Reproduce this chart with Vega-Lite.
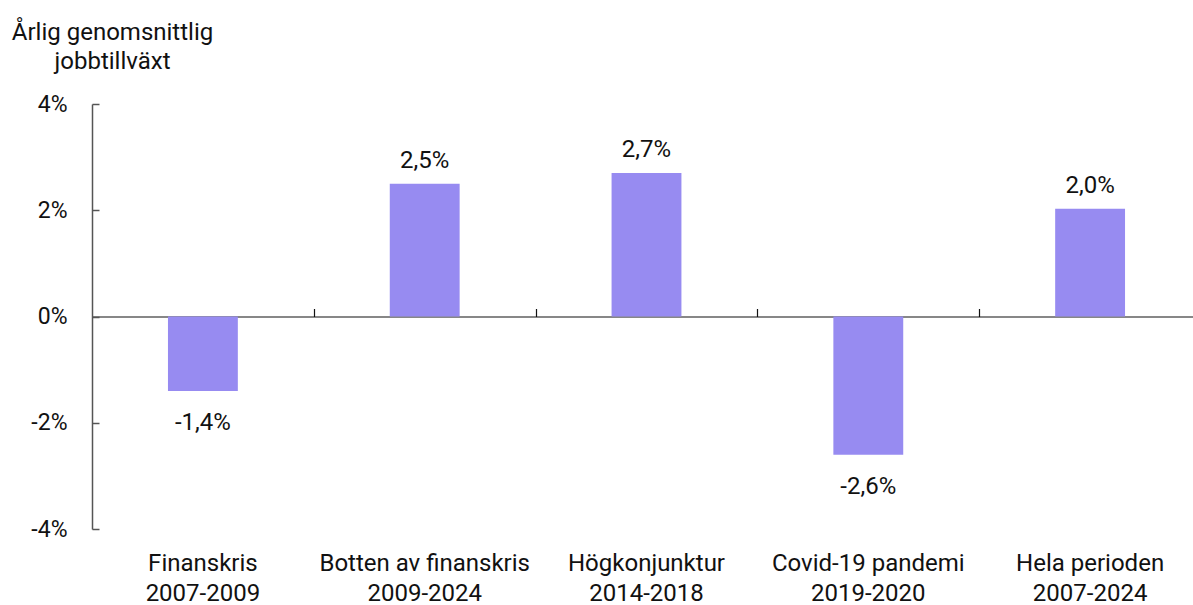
{
  "$schema": "https://vega.github.io/schema/vega-lite/v6.json",
  "autosize": "none",
  "width": 1101,
  "height": 425,
  "padding": {"left": 92, "top": 104, "right": 0, "bottom": 76},
  "background": "white",
  "config": {
    "view": {"stroke": null},
    "font": "Roboto",
    "locale": {"number": {"decimal": ",", "thousands": " ", "grouping": [3], "currency": ["", " kr"], "minus": "-"}}
  },
  "data": {
    "values": [
      {"period": "Finanskris\n2007-2009", "growth": -0.014},
      {"period": "Botten av finanskris\n2009-2024", "growth": 0.025},
      {"period": "Högkonjunktur\n2014-2018", "growth": 0.027},
      {"period": "Covid-19 pandemi\n2019-2020", "growth": -0.026},
      {"period": "Hela perioden\n2007-2024", "growth": 0.0203}
    ]
  },
  "resolve": {"axis": {"x": "independent"}},
  "layer": [
    {
      "mark": {"type": "bar", "color": "#978bf1"},
      "encoding": {
        "x": {
          "field": "period", "type": "nominal", "sort": null,
          "scale": {"range": [0, 1109], "paddingInner": 0.685, "paddingOuter": 0.3425},
          "axis": {
            "orient": "bottom", "title": null, "domain": false, "ticks": false,
            "labelAngle": 0, "labelExpr": "split(datum.label, '\\n')",
            "labelFontSize": 24, "labelColor": "#111", "labelLineHeight": 30,
            "labelPadding": 22, "labelBaseline": "top", "labelFont": "Roboto", "labelLimit": 400
          }
        },
        "y": {
          "field": "growth", "type": "quantitative",
          "scale": {"domain": [-0.04, 0.04], "nice": false},
          "axis": {
            "values": [-0.04, -0.02, 0, 0.02, 0.04], "format": ".0%",
            "grid": false, "domainColor": "#555", "domainWidth": 1.5,
            "tickColor": "#555", "tickSize": -7, "tickWidth": 1.5,
            "labelFontSize": 23, "labelColor": "#111", "labelPadding": 32,
            "title": ["Årlig genomsnittlig", "jobbtillväxt"],
            "titleAngle": 0, "titleAlign": "center", "titleBaseline": "alphabetic",
            "titleX": 20, "titleY": -65, "titleFontSize": 24, "titleFontWeight": "normal",
            "titleColor": "#111", "titleLineHeight": 29
          }
        }
      }
    },
    {
      "transform": [{"filter": "datum.growth >= 0"}],
      "mark": {"type": "text", "baseline": "alphabetic", "dy": -16, "fontSize": 24, "color": "#111"},
      "encoding": {
        "x": {
          "field": "period", "type": "nominal", "sort": null,
          "axis": {
            "orient": "top", "offset": -212.5, "title": null, "labels": false,
            "domain": true, "domainColor": "#111", "domainWidth": 1.2,
            "ticks": true, "tickOffset": 110.9, "tickSize": 8, "tickColor": "#111", "tickWidth": 1.2
          }
        },
        "y": {"field": "growth", "type": "quantitative"},
        "text": {"field": "growth", "type": "quantitative", "format": ".1%"}
      }
    },
    {
      "transform": [{"filter": "datum.growth < 0"}],
      "mark": {"type": "text", "baseline": "alphabetic", "dy": 39, "fontSize": 24, "color": "#111"},
      "encoding": {
        "x": {"field": "period", "type": "nominal", "sort": null, "axis": null},
        "y": {"field": "growth", "type": "quantitative"},
        "text": {"field": "growth", "type": "quantitative", "format": ".1%"}
      }
    }
  ]
}
